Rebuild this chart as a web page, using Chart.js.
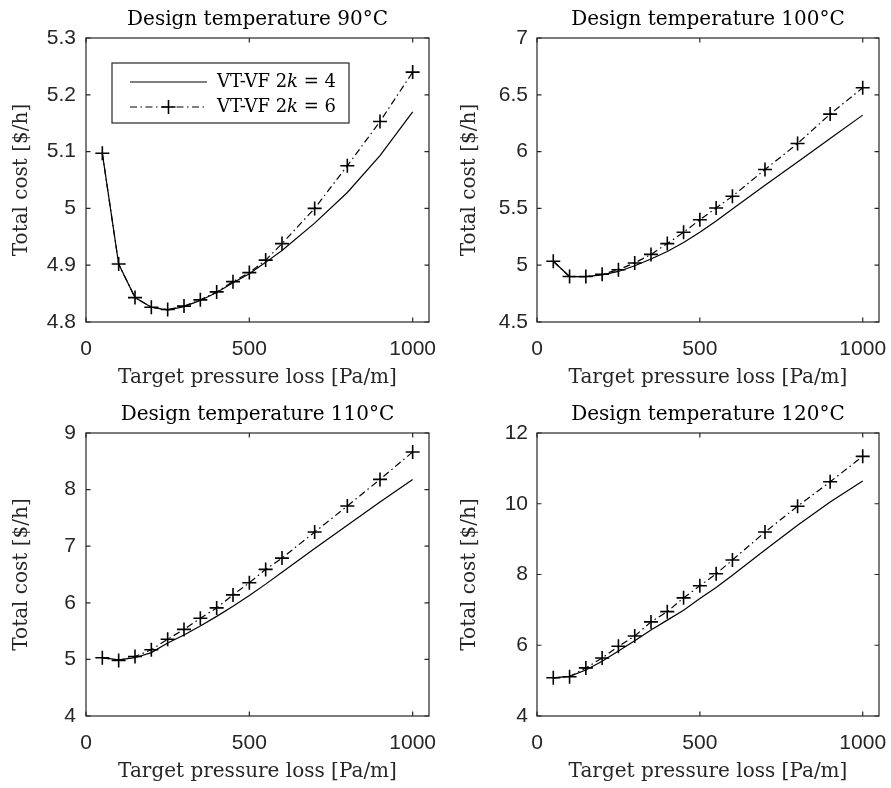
<!DOCTYPE html>
<html><head><meta charset="utf-8">
<script src="https://cdn.jsdelivr.net/npm/chart.js@4.4.0/dist/chart.umd.min.js"></script>
<style>
html,body{margin:0;padding:0;background:#fff;width:891px;height:788px;overflow:hidden}
canvas{position:absolute;display:block}
</style></head><body>
<canvas id="c90" width="445" height="394" style="left:0;top:0"></canvas>
<canvas id="c100" width="446" height="394" style="left:445px;top:0"></canvas>
<canvas id="c110" width="445" height="394" style="left:0;top:394px"></canvas>
<canvas id="c120" width="446" height="394" style="left:445px;top:394px"></canvas>
<script>
// ---------- data ----------
const pressureLoss = [50,100,150,200,250,300,350,400,450,500,550,600,700,800,900,1000];
const xTicks = [0,500,1000];

const cost90_k4  = [5.097,4.902,4.843,4.826,4.821,4.827,4.838,4.852,4.869,4.885,4.905,4.926,4.974,5.028,5.093,5.170];
const cost90_k6  = [5.097,4.902,4.843,4.826,4.822,4.828,4.839,4.853,4.871,4.887,4.909,4.938,5.000,5.075,5.153,5.240];
const yTicks90   = [4.8,4.9,5,5.1,5.2,5.3];

const cost100_k4 = [5.035,4.900,4.900,4.915,4.945,4.995,5.055,5.120,5.200,5.290,5.390,5.495,5.704,5.909,6.116,6.321];
const cost100_k6 = [5.035,4.900,4.900,4.920,4.960,5.020,5.095,5.190,5.290,5.400,5.504,5.607,5.842,6.071,6.330,6.562];
const yTicks100  = [4.5,5,5.5,6,6.5,7];

const cost110_k4 = [5.030,4.990,5.030,5.120,5.290,5.430,5.590,5.760,5.940,6.130,6.330,6.540,6.960,7.370,7.780,8.180];
const cost110_k6 = [5.030,4.980,5.050,5.170,5.356,5.530,5.726,5.910,6.140,6.355,6.590,6.790,7.250,7.710,8.180,8.665];
const yTicks110  = [4,5,6,7,8,9];

const cost120_k4 = [5.080,5.120,5.300,5.550,5.840,6.130,6.430,6.710,6.990,7.320,7.630,7.980,8.690,9.390,10.050,10.640];
const cost120_k6 = [5.080,5.110,5.360,5.640,5.970,6.260,6.660,6.950,7.340,7.680,8.020,8.410,9.200,9.930,10.620,11.340];
const yTicks120  = [4,6,8,10,12];

const legendLabels = ['VT-VF 2k = 4','VT-VF 2k = 6'];

// ---------- styling ----------
const AX = '#262626';
const SERIF = 'DejaVu Serif';
const SANS = 'Liberation Sans';
const DASHDOT = [7,3.5,1.5,3.5];

const boxTicks = {
  id:'boxTicks',
  afterDatasetsDraw(chart){
    const {ctx, chartArea:{left,right,top,bottom}, scales:{x,y}} = chart;
    const L = 4.5;
    ctx.save();
    ctx.strokeStyle = AX; ctx.lineWidth = 1.2; ctx.setLineDash([]);
    ctx.beginPath();
    x.ticks.forEach(t=>{const p=x.getPixelForValue(t.value);
      ctx.moveTo(p,bottom);ctx.lineTo(p,bottom-L);ctx.moveTo(p,top);ctx.lineTo(p,top+L);});
    y.ticks.forEach(t=>{const p=y.getPixelForValue(t.value);
      ctx.moveTo(left,p);ctx.lineTo(left+L,p);ctx.moveTo(right,p);ctx.lineTo(right-L,p);});
    ctx.stroke();
    ctx.strokeRect(left,top,right-left,bottom-top);
    ctx.restore();
  }
};

function drawLabel(ctx, text, x, y){
  // italic k in "2k"
  const i = text.indexOf('k');
  const a = text.slice(0,i), b = 'k', c = text.slice(i+1);
  ctx.font = '18px "'+SERIF+'"';
  ctx.fillText(a,x,y); x += ctx.measureText(a).width;
  ctx.font = 'italic 18px "'+SERIF+'"';
  ctx.fillText(b,x,y); x += ctx.measureText(b).width;
  ctx.font = '18px "'+SERIF+'"';
  ctx.fillText(c,x,y);
}

const legendBox = {
  id:'legendBox',
  afterDraw(chart, args, opts){
    if(!opts.show) return;
    const {ctx, chartArea:{left,top}} = chart;
    const bx = left+26, by = top+25, bw = 237, bh = 60;
    ctx.save();
    ctx.fillStyle='#fff'; ctx.fillRect(bx,by,bw,bh);
    ctx.strokeStyle=AX; ctx.lineWidth=1.2; ctx.strokeRect(bx,by,bw,bh);
    const y1 = by+19, y2 = by+44, x0 = bx+18, x1 = bx+95;
    ctx.strokeStyle='#000'; ctx.lineWidth=1.2;
    ctx.beginPath(); ctx.moveTo(x0,y1); ctx.lineTo(x1,y1); ctx.stroke();
    ctx.setLineDash(DASHDOT);
    ctx.beginPath(); ctx.moveTo(x0,y2); ctx.lineTo(x1,y2); ctx.stroke();
    ctx.setLineDash([]);
    const xm=(x0+x1)/2; ctx.lineWidth=1.6;
    ctx.beginPath(); ctx.moveTo(xm-7,y2); ctx.lineTo(xm+7,y2); ctx.moveTo(xm,y2-7); ctx.lineTo(xm,y2+7); ctx.stroke();
    ctx.fillStyle='#000'; ctx.textBaseline='middle'; ctx.textAlign='left';
    drawLabel(ctx, legendLabels[0], bx+105, y1);
    drawLabel(ctx, legendLabels[1], bx+105, y2);
    ctx.restore();
  }
};

function fmt(v){ return String(Number(v.toFixed(3))); }

function makeChart(id, title, k4, k6, yTicks, opt){
  const pts = arr => pressureLoss.map((x,i)=>({x, y:arr[i]}));
  new Chart(document.getElementById(id), {
    type:'line',
    data:{datasets:[
      {label:legendLabels[0], data:pts(k4), borderColor:'#000', borderWidth:1.2, pointRadius:0, tension:0, fill:false},
      {label:legendLabels[1], data:pts(k6), borderColor:'#000', borderWidth:1.2, borderDash:DASHDOT, tension:0, fill:false,
       pointStyle:'cross', pointRadius:7, pointHoverRadius:7, pointBorderColor:'#000', pointBorderWidth:1.6}
    ]},
    options:{
      responsive:false, animation:false, devicePixelRatio:1,
      events:[],
      layout:{padding:{left:0, right:opt.padRight, top:0, bottom:0}},
      plugins:{
        legend:{display:false}, tooltip:{enabled:false},
        title:{display:true, text:title, fullSize:false, color:'#000',
               font:{family:SERIF, size:20, weight:'normal', lineHeight:1.2},
               padding:{top:opt.titleTop, bottom:6}},
        legendBox:{show:!!opt.legend}
      },
      scales:{
        x:{type:'linear', min:0, max:1050,
           afterBuildTicks:s=>{s.ticks = xTicks.map(v=>({value:v}));},
           afterFit:s=>{s.height = 72; s.paddingLeft = 0; s.paddingRight = 0;},
           grid:{display:false, drawTicks:false}, border:{display:false},
           ticks:{color:AX, font:{family:SANS, size:21}, padding:15, maxRotation:0, autoSkip:false, callback:v=>fmt(v)},
           title:{display:true, text:'Target pressure loss [Pa/m]', color:AX,
                  font:{family:SERIF, size:20, lineHeight:1.2}, padding:{top:0, bottom:4}}},
        y:{type:'linear', min:yTicks[0], max:yTicks[yTicks.length-1],
           afterBuildTicks:s=>{s.ticks = yTicks.map(v=>({value:v}));},
           afterFit:s=>{s.width = opt.yWidth; s.paddingTop = 0; s.paddingBottom = 0;},
           grid:{display:false, drawTicks:false}, border:{display:false},
           ticks:{color:AX, font:{family:SANS, size:21}, padding:opt.yPad, autoSkip:false, callback:v=>fmt(v)},
           title:{display:true, text:'Total cost [$/h]', color:AX,
                  font:{family:SERIF, size:20, lineHeight:1.2}, padding:{top:opt.yTitlePad, bottom:0}}}
      }
    },
    plugins:[boxTicks, legendBox]
  });
}

makeChart('c90',  'Design temperature 90°C',  cost90_k4,  cost90_k6,  yTicks90,  {padRight:16, yWidth:86, yPad:10, yTitlePad:10, titleTop:8, legend:true});
makeChart('c100', 'Design temperature 100°C', cost100_k4, cost100_k6, yTicks100, {padRight:12, yWidth:92, yPad:9, yTitlePad:13, titleTop:8});
makeChart('c110', 'Design temperature 110°C', cost110_k4, cost110_k6, yTicks110, {padRight:16, yWidth:86, yPad:10, yTitlePad:10, titleTop:9});
makeChart('c120', 'Design temperature 120°C', cost120_k4, cost120_k6, yTicks120, {padRight:12, yWidth:92, yPad:9, yTitlePad:13, titleTop:9});
</script>
</body></html>
